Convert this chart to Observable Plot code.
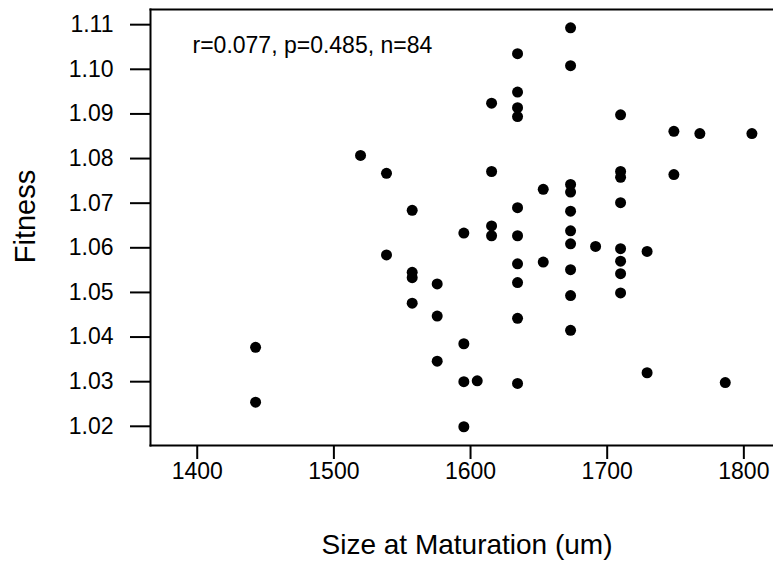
<!DOCTYPE html>
<html><head><meta charset="utf-8">
<script src="https://cdn.jsdelivr.net/npm/d3@7"></script>
<script src="https://cdn.jsdelivr.net/npm/@observablehq/plot@0.6"></script>
<style>html,body{margin:0;padding:0;background:#fff}#chart{width:773px;height:563px}</style>
</head><body><div id="chart"></div>
<script>
// Size at maturation (um) for each point
const sizes = [
  1442.7, 1442.7,
  1519.5,
  1538.5, 1538.5,
  1557.3, 1557.3, 1557.3, 1557.3,
  1575.6, 1575.6, 1575.6,
  1595.1, 1595.1, 1595.1, 1595.1,
  1604.9,
  1615.4, 1615.4, 1615.4, 1615.4,
  1634.4, 1634.4, 1634.4, 1634.4, 1634.4, 1634.4, 1634.4, 1634.4, 1634.4, 1634.4,
  1653.2, 1653.2,
  1673.2, 1673.2, 1673.2, 1673.2, 1673.2, 1673.2, 1673.2, 1673.2, 1673.2, 1673.2,
  1691.5,
  1709.8, 1709.8, 1709.8, 1709.8, 1709.8, 1709.8, 1709.8, 1709.8,
  1729.2, 1729.2,
  1748.8, 1748.8,
  1767.8,
  1786.4,
  1805.9
];
// Fitness for each point
const fitness = [
  1.0377, 1.0254,
  1.0807,
  1.0767, 1.0584,
  1.0684, 1.0545, 1.0533, 1.0476,
  1.0519, 1.0447, 1.0346,
  1.0633, 1.0385, 1.0300, 1.0199,
  1.0302,
  1.0924, 1.0771, 1.0649, 1.0627,
  1.1035, 1.0949, 1.0914, 1.0894, 1.0690, 1.0627, 1.0564, 1.0522, 1.0442, 1.0296,
  1.0731, 1.0568,
  1.1093, 1.1008, 1.0742, 1.0725, 1.0682, 1.0638, 1.0609, 1.0551, 1.0493, 1.0415,
  1.0603,
  1.0898, 1.0771, 1.0758, 1.0701, 1.0598, 1.0570, 1.0542, 1.0499,
  1.0592, 1.0320,
  1.0861, 1.0764,
  1.0856,
  1.0298,
  1.0856
];
const xTicks = [1400, 1500, 1600, 1700, 1800];
const yTicks = [1.02, 1.03, 1.04, 1.05, 1.06, 1.07, 1.08, 1.09, 1.10, 1.11];
const xLabel = "Size at Maturation (um)";
const yLabel = "Fitness";
const statsText = "r=0.077, p=0.485, n=84";

const data = sizes.map((s, i) => ({size: s, fitness: fitness[i]}));
const font = "'Liberation Sans', Arial, Helvetica, sans-serif";

const chart = Plot.plot({
  width: 773, height: 563,
  marginLeft: 150, marginRight: 0, marginTop: 9, marginBottom: 118,
  style: {fontFamily: font, background: "#fff", color: "#000", overflow: "visible"},
  x: {domain: [1365.8, 1821.7]},
  y: {domain: [1.0157, 1.1134]},
  marks: [
    Plot.axisY({ticks: yTicks, tickSize: 20, tickPadding: 17, tickFormat: d => d.toFixed(2), fontSize: 23, strokeWidth: 2, label: null}),
    Plot.axisX({ticks: xTicks, tickSize: 14, tickPadding: 3, tickFormat: d => String(d), fontSize: 23, strokeWidth: 2, label: null}),
    Plot.frame({anchor: "left", strokeWidth: 2}),
    Plot.frame({anchor: "top", strokeWidth: 2}),
    Plot.frame({anchor: "bottom", strokeWidth: 2}),
    Plot.dot(data, {x: "size", y: "fitness", r: 5.5, fill: "#000", stroke: "none"}),
    Plot.text([statsText], {frameAnchor: "top-left", dx: 42, dy: 43, textAnchor: "start", lineAnchor: "bottom", fontSize: 23, fill: "#000"}),
    Plot.text([xLabel], {frameAnchor: "bottom", dx: 5, dy: 108, textAnchor: "middle", lineAnchor: "bottom", fontSize: 28, fill: "#000"}),
    Plot.text([yLabel], {frameAnchor: "left", rotate: -90, dx: -116, dy: -11, textAnchor: "middle", lineAnchor: "bottom", fontSize: 29, fill: "#000"})
  ]
});
document.getElementById("chart").appendChild(chart);
</script>
</body></html>
